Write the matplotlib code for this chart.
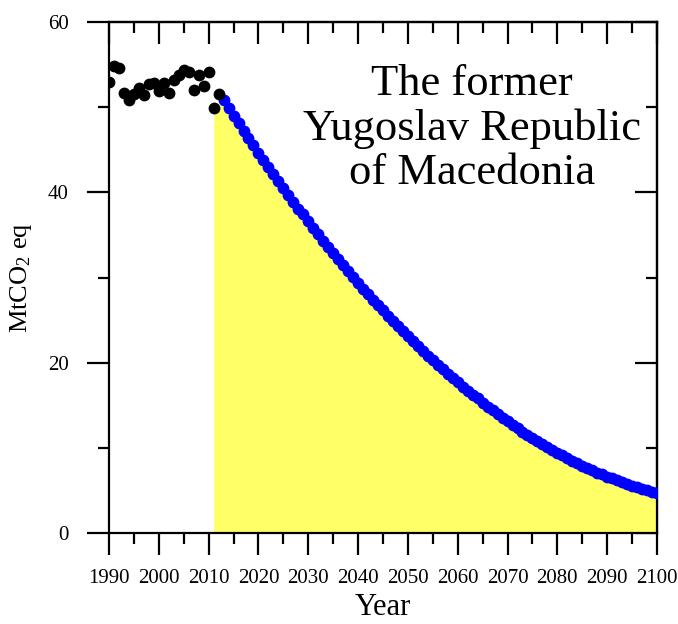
import matplotlib
matplotlib.use("Agg")
import matplotlib.pyplot as plt
import numpy as np

plt.rcParams['font.family'] = ['Liberation Serif', 'DejaVu Serif']
plt.rcParams['mathtext.fontset'] = 'custom'
plt.rcParams['mathtext.rm'] = 'Liberation Serif'
plt.rcParams['mathtext.it'] = 'Liberation Serif:italic'
plt.rcParams['mathtext.default'] = 'regular'
plt.rcParams['xtick.labelsize'] = 15
plt.rcParams['ytick.labelsize'] = 15

# Historical emissions (black dots)
hist_years = list(range(1990, 2013))
hist_values = [53.0, 54.8, 54.6, 51.7, 50.9, 51.5, 52.3, 51.4, 52.7, 52.8,
               51.9, 52.8, 51.7, 53.2, 53.8, 54.4, 54.1, 52.0, 53.8, 52.5,
               54.1, 49.9, 51.5]

# Projected pathway (blue dots)
proj_years = list(range(2013, 2101))
proj_values = [50.8, 49.9, 49.0, 48.1, 47.2, 46.4, 45.5, 44.6, 43.8, 43.0,
               42.1, 41.3, 40.5, 39.7, 38.9, 38.1, 37.4, 36.6, 35.8, 35.1,
               34.3, 33.6, 32.9, 32.2, 31.5, 30.8, 30.1, 29.4, 28.7, 28.1,
               27.4, 26.8, 26.2, 25.5, 24.9, 24.3, 23.7, 23.1, 22.5, 22.0,
               21.4, 20.8, 20.3, 19.7, 19.2, 18.7, 18.2, 17.7, 17.2, 16.7,
               16.2, 15.8, 15.3, 14.8, 14.4, 14.0, 13.5, 13.1, 12.7, 12.3,
               11.9, 11.5, 11.2, 10.8, 10.5, 10.1, 9.8, 9.4, 9.1, 8.8,
               8.5, 8.2, 7.9, 7.6, 7.4, 7.1, 6.9, 6.6, 6.4, 6.2,
               6.0, 5.7, 5.5, 5.4, 5.2, 5.0, 4.8, 4.7]

x_ticks = list(range(1990, 2101, 10))
y_ticks = [0, 20, 40, 60]
title_text = "The former\nYugoslav Republic\nof Macedonia"

fig = plt.figure(figsize=(6.78, 6.24), dpi=100)
ax = fig.add_axes([109/678, 1-533/624, 548/678, 511/624])

# yellow area under the pathway, starting at last inventory year 2011
fill_x = [hist_years[-2]] + proj_years
fill_y = [hist_values[-2]] + proj_values
ax.fill_between(fill_x, 0, fill_y, color='#FFFF66', lw=0, zorder=1)

ax.plot(proj_years, proj_values, 'o', color='#0000FF', ms=8.5, mec='none', zorder=3)
ax.plot(hist_years, hist_values, 'o', color='black', ms=8.5, mec='none', zorder=4)

ax.set_xlim(1990, 2100)
ax.set_ylim(0, 60)
ax.set_xticks(x_ticks)
ax.set_xticklabels([str(v) for v in x_ticks], fontsize=15)
ax.set_xticks(range(1995, 2100, 10), minor=True)
ax.set_yticks(y_ticks)
ax.set_yticklabels([str(v) for v in y_ticks], fontsize=15)
ax.set_yticks(range(10, 60, 20), minor=True)

for s in ax.spines.values():
    s.set_linewidth(1.6)

ax.tick_params(which='major', direction='out', length=16, width=1.6,
               top=False, right=False)
ax.tick_params(which='minor', direction='out', length=8, width=1.6,
               top=False, right=False)
ax.tick_params(axis='x', which='major', pad=10)
ax.tick_params(axis='y', which='major', pad=13)

secx = ax.secondary_xaxis('top')
secx.set_xticks(x_ticks)
secx.set_xticks(range(1995, 2100, 10), minor=True)
secx.tick_params(which='major', direction='in', length=16, width=1.6, labeltop=False)
secx.tick_params(which='minor', direction='in', length=8, width=1.6)
secx.spines['top'].set_linewidth(1.6)

secy = ax.secondary_yaxis('right')
secy.set_yticks(y_ticks)
secy.set_yticks(range(10, 60, 20), minor=True)
secy.tick_params(which='major', direction='in', length=16, width=1.6, labelright=False)
secy.tick_params(which='minor', direction='in', length=8, width=1.6)
secy.spines['right'].set_linewidth(1.6)

ax.set_xlabel('Year', fontsize=22)
ax.xaxis.set_label_coords(0.5, -0.118)
ax.set_ylabel('MtCO$_2$ eq', fontsize=19)
ax.yaxis.set_label_coords(-0.137, 0.5)

ax.text(0.662, 0.918, title_text, transform=ax.transAxes, ha='center', va='top',
        fontsize=32, linespacing=1.14, zorder=5)

fig.savefig('out.png', dpi=100)
